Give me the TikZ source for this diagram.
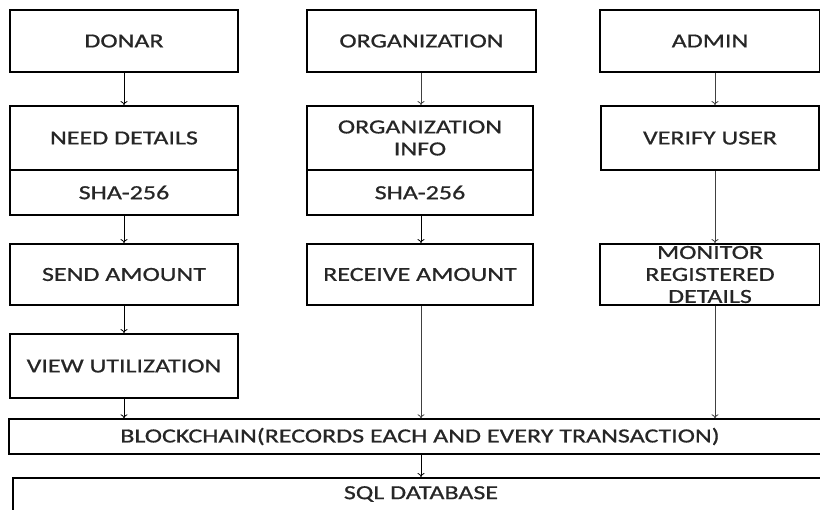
\documentclass[tikz,border=0pt]{standalone}
\usepackage{fontspec}
\setmainfont{Carlito}[FakeStretch=1.3,FakeBold=0.8]
\usetikzlibrary{arrows.meta}
\begin{document}
\begin{tikzpicture}[x=1pt,y=-1pt,
  txt/.style={font=\fontsize{20}{22}\selectfont,text=black!85},
  box/.style={draw,line width=1.8pt,inner sep=0pt,align=center,txt},
  arr/.style={line width=0.8pt,-{To[length=4pt,width=7pt]}},
  garr/.style={arr,draw=black!75}]
\useasboundingbox (0,0) rectangle (820,510);
\clip (0,0) rectangle (820,510);
% column 1
\node[box,minimum width=228pt,minimum height=62pt] (donar) at (124,41) {DONAR};
\node[box,minimum width=228pt,minimum height=64pt] (need) at (124,138) {NEED DETAILS};
\node[box,minimum width=228pt,minimum height=45pt] (sha1) at (124,192.5) {SHA-256};
\node[box,minimum width=228pt,minimum height=61pt] (send) at (124,274.5) {SEND AMOUNT};
\node[box,minimum width=228pt,minimum height=64pt] (view) at (124,366) {VIEW UTILIZATION};
% column 2
\node[box,minimum width=229pt,minimum height=62pt] (org) at (421.5,41) {ORGANIZATION};
\node[box,minimum width=226pt,minimum height=64pt] (orginfo) at (420,138) {ORGANIZATION\\INFO};
\node[box,minimum width=226pt,minimum height=45pt] (sha2) at (420,192.5) {SHA-256};
\node[box,minimum width=226pt,minimum height=61pt] (recv) at (420,274.5) {RECEIVE AMOUNT};
% column 3
\node[box,minimum width=220pt,minimum height=62pt] (admin) at (710,41) {ADMIN};
\node[box,minimum width=218pt,minimum height=64pt] (verify) at (710,138) {VERIFY USER};
\node[box,minimum width=220pt,minimum height=61pt] (monitor) at (710,274.5) {MONITOR\\REGISTERED\\DETAILS};
% bottom
\node[box,line width=1.4pt,minimum width=822pt,minimum height=35pt] (chain) at (420,436.5) {BLOCKCHAIN(RECORDS EACH AND EVERY TRANSACTION)};
\node[box,line width=1.6pt,minimum width=822pt,minimum height=60pt,anchor=north west] (sql) at (12,477) {};
\node[txt] (sqltext) at (421,494) {SQL DATABASE};
% arrows
\coordinate (c1) at (124,0);
\coordinate (c2) at (421,0);
\coordinate (c3) at (715,0);
\draw[arr] (c1 |- donar.south) -- (c1 |- need.north);
\draw[arr] (c1 |- sha1.south) -- (c1 |- send.north);
\draw[arr] (c1 |- send.south) -- (c1 |- view.north);
\draw[arr] (c1 |- view.south) -- (c1 |- chain.north);
\draw[garr] (c2 |- org.south) -- (c2 |- orginfo.north);
\draw[arr] (c2 |- sha2.south) -- (c2 |- recv.north);
\draw[garr] (c2 |- recv.south) -- (c2 |- chain.north);
\draw[garr] (c3 |- admin.south) -- (c3 |- verify.north);
\draw[garr] (c3 |- verify.south) -- (c3 |- monitor.north);
\draw[garr] (c3 |- monitor.south) -- (c3 |- chain.north);
\draw[arr] (c2 |- chain.south) -- (c2 |- sql.north);
\end{tikzpicture}
\end{document}
